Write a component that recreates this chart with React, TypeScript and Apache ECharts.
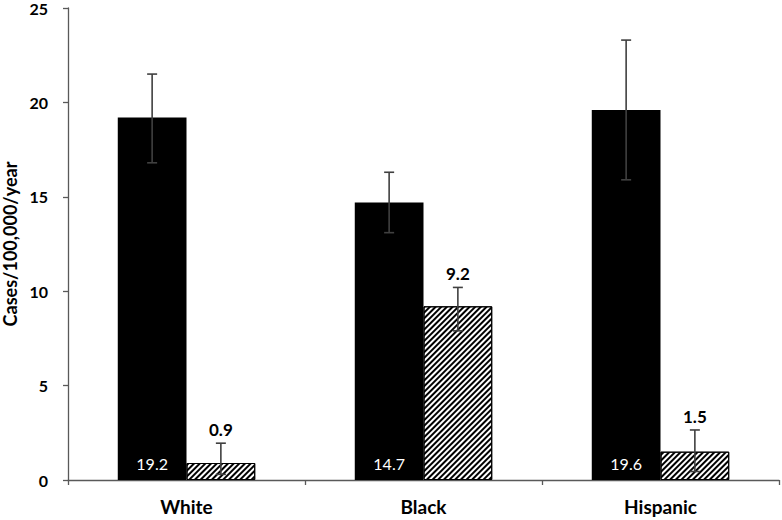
import React, { useEffect, useRef } from "react";
import * as echarts from "echarts";

const categories = ["White", "Black", "Hispanic"];
const solidValues = [19.2, 14.7, 19.6];
const solidLow = [16.8, 13.1, 15.9];
const solidHigh = [21.5, 16.3, 23.3];
const hatchValues = [0.9, 9.2, 1.5];
const hatchLow = [0.3, 7.9, 0.45];
const hatchHigh = [1.95, 10.2, 2.65];
const yTicks = [0, 5, 10, 15, 20, 25];

const FONT = "Lato, 'DejaVu Sans', sans-serif";
const BAR_FRACTION = 0.29;

function errorSeries(low: number[], high: number[], values: number[], side: number, color: string, showLabel: boolean) {
  return {
    type: "custom",
    z: 10,
    data: categories.map((_, i) => [i, low[i], high[i], values[i]]),
    renderItem: (params: any, api: any) => {
      const idx = api.value(0);
      const lo = api.coord([idx, api.value(1)]);
      const hi = api.coord([idx, api.value(2)]);
      const catW = api.size([1, 0])[0];
      const x = lo[0] + side * catW * BAR_FRACTION / 2;
      const cap = 5;
      const children: any[] = [
        { type: "line", shape: { x1: x, y1: lo[1], x2: x, y2: hi[1] }, style: { stroke: color, lineWidth: 1.6 } },
        { type: "line", shape: { x1: x - cap, y1: hi[1], x2: x + cap, y2: hi[1] }, style: { stroke: color, lineWidth: 1.6 } },
        { type: "line", shape: { x1: x - cap, y1: lo[1], x2: x + cap, y2: lo[1] }, style: { stroke: color, lineWidth: 1.6 } },
      ];
      if (showLabel) {
        children.push({
          type: "text",
          x: x,
          y: hi[1] - 5,
          style: {
            text: String(api.value(3)),
            fill: "#000",
            font: `bold 17px ${FONT}`,
            textAlign: "center",
            textVerticalAlign: "bottom",
          },
        });
      }
      return { type: "group", children };
    },
  };
}

export default function App() {
  const ref = useRef<HTMLDivElement>(null);
  useEffect(() => {
    if (!ref.current) return;
    const chart = echarts.init(ref.current, null, { renderer: "svg" });
    chart.setOption({
      animation: false,
      backgroundColor: "#fff",
      grid: { left: 68, right: 3, top: 8, bottom: 40, containLabel: false, outerBoundsMode: "none" },
      xAxis: {
        type: "category",
        data: categories,
        axisLine: { lineStyle: { color: "#595959", width: 1.3 } },
        axisTick: { show: true, length: 5, interval: 0, alignWithLabel: false, lineStyle: { color: "#595959", width: 1.3 } },
        axisLabel: { color: "#000", fontWeight: "bold", fontSize: 19, fontFamily: FONT, margin: 17 },
      },
      yAxis: {
        type: "value",
        min: 0,
        max: 25,
        interval: 5,
        splitLine: { show: false },
        axisLine: { show: true, lineStyle: { color: "#595959", width: 1.3 } },
        axisTick: { show: true, length: 5, lineStyle: { color: "#595959", width: 1.3 } },
        axisLabel: {
          color: "#000",
          fontWeight: "bold",
          fontSize: 16,
          fontFamily: FONT,
          margin: 20,
          formatter: (v: number) => (yTicks.includes(v) ? String(v) : ""),
        },
        name: "Cases/100,000/year",
        nameLocation: "middle",
        nameRotate: 90,
        nameGap: 47,
        nameTextStyle: { color: "#000", fontWeight: "bold", fontSize: 18, fontFamily: FONT },
      },
      series: [
        {
          type: "bar",
          data: solidValues,
          barWidth: "29%",
          barGap: "0%",
          itemStyle: { color: "#000" },
          label: {
            show: true,
            position: "insideBottom",
            distance: 9,
            color: "#fff",
            fontSize: 16,
            fontFamily: FONT,
            formatter: (p: any) => String(p.value),
          },
        },
        {
          type: "bar",
          data: hatchValues,
          barWidth: "29%",
          barGap: "0%",
          itemStyle: {
            color: "#fff",
            borderColor: "#000",
            borderWidth: 1,
            decal: {
              symbol: "rect",
              symbolSize: 1,
              dashArrayX: [1, 0],
              dashArrayY: [1.5, 1.7],
              rotation: -Math.PI / 4,
              color: "#000",
              backgroundColor: "#fff",
            },
          },
        },
        errorSeries(solidLow, solidHigh, solidValues, -1, "#404040", false),
        errorSeries(hatchLow, hatchHigh, hatchValues, 1, "#404040", true),
      ],
    });
    return () => chart.dispose();
  }, []);
  return <div ref={ref} style={{ position: "fixed", left: 0, top: 0, width: 782, height: 520 }} />;
}
